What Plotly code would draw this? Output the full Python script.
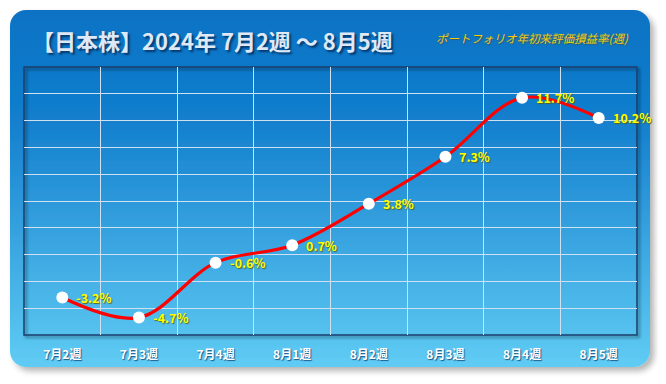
import base64
import plotly.graph_objects as go

categories = ["7月2週", "7月3週", "7月4週", "8月1週", "8月2週", "8月3週", "8月4週", "8月5週"]
returns_pct = [-3.2, -4.7, -0.6, 0.7, 3.8, 7.3, 11.7, 10.2]
labels = [f"{v:.1f}%" for v in returns_pct]

title_text = "【日本株】2024年 7月2週 ～ 8月5週"
legend_text = "ポートフォリオ年初来評価損益率(週)"

# page offset of 8px (body margin) compensated: figure is 658x376
OFF = 8
W, H = 666 - OFF, 384 - OFF
L, R, T, B = 24 - OFF, 29, 67 - OFF, 49
pw, ph = W - L - R, H - T - B

svg = f'''<svg xmlns="http://www.w3.org/2000/svg" width="{W}" height="{H}" viewBox="0 0 {W} {H}">
<defs>
<linearGradient id="g" x1="0" y1="0" x2="0" y2="1">
<stop offset="0" stop-color="#0a72c4"/>
<stop offset="0.3" stop-color="#127ecd"/>
<stop offset="1" stop-color="#60ccf4"/>
</linearGradient>
<filter id="s" x="-5%" y="-5%" width="115%" height="120%">
<feGaussianBlur in="SourceAlpha" stdDeviation="3"/>
<feOffset dx="4" dy="4" result="b"/>
<feComponentTransfer><feFuncA type="linear" slope="0.3"/></feComponentTransfer>
<feMerge><feMergeNode/><feMergeNode in="SourceGraphic"/></feMerge>
</filter>
<filter id="s2" x="-5%" y="-5%" width="110%" height="115%">
<feGaussianBlur in="SourceAlpha" stdDeviation="1.5"/>
<feOffset dx="2" dy="2" result="b"/>
<feComponentTransfer><feFuncA type="linear" slope="0.5"/></feComponentTransfer>
<feMerge><feMergeNode/><feMergeNode in="SourceGraphic"/></feMerge>
</filter>
</defs>
<rect x="{10 - OFF}" y="{10 - OFF}" width="640" height="357" rx="16" ry="16" fill="url(#g)" filter="url(#s)"/>
<rect x="{L}" y="{T}" width="{pw}" height="{ph}" fill="none" stroke="#1d3f6b" stroke-width="1.5" filter="url(#s2)"/>
</svg>'''
src = "data:image/svg+xml;base64," + base64.b64encode(svg.encode("utf-8")).decode("ascii")

fig = go.Figure()
fig.add_trace(go.Scatter(
    x=categories, y=returns_pct, mode="lines+markers",
    line=dict(color="#ff0000", width=3.2, shape="spline", smoothing=1.0),
    marker=dict(size=12, color="#ffffff", line=dict(width=0)),
    cliponaxis=False, hoverinfo="skip",
))

label_font = dict(family="Noto Sans CJK JP", size=12.5, color="#ffff00", weight="bold",
                  shadow="1px 1px 1px rgba(90,90,0,0.85)")
annotations = [
    dict(x=c, y=v, text=t, xref="x", yref="y", xanchor="left", yanchor="middle",
         xshift=12, yshift=0, showarrow=False, font=label_font)
    for c, v, t in zip(categories, returns_pct, labels)
]
annotations += [
    dict(text=title_text, xref="paper", yref="paper", x=(30 - OFF - L) / pw, y=(H - B - (40 - OFF)) / ph,
         xanchor="left", yanchor="middle", showarrow=False,
         font=dict(family="Noto Sans CJK JP", size=22, color="#dfe9f6", weight="bold",
                   shadow="2px 2px 2px rgba(0,30,70,0.7)")),
    dict(text=legend_text, xref="paper", yref="paper", x=(631 - OFF - L) / pw, y=(H - B - (38 - OFF)) / ph,
         xanchor="right", yanchor="middle", showarrow=False,
         font=dict(family="Noto Sans CJK JP", size=11.5, color="#f5cc10", style="italic",
                   shadow="1px 1px 1px rgba(90,70,0,0.6)")),
]

fig.update_layout(
    width=W, height=H,
    margin=dict(l=L, r=R, t=T, b=B),
    paper_bgcolor="#ffffff", plot_bgcolor="rgba(0,0,0,0)",
    showlegend=False,
    images=[dict(source=src, xref="paper", yref="paper",
                 x=-L / pw, y=(ph + T) / ph, sizex=W / pw, sizey=H / ph,
                 xanchor="left", yanchor="top", sizing="stretch", layer="below")],
    xaxis=dict(type="category", range=[-0.5, 7.5], tickson="boundaries",
               showgrid=True, gridcolor="#cfe0f0", gridwidth=1, zeroline=False,
               ticks="", ticklabelstandoff=11,
               tickfont=dict(family="Noto Sans CJK JP", size=12, color="#ffffff", weight="bold",
                             shadow="1px 1px 1px rgba(0,40,90,0.7)"),
               showline=False, fixedrange=True),
    yaxis=dict(range=[-6, 14], dtick=2, showgrid=True, gridcolor="#cfe0f0", gridwidth=1,
               zeroline=False, showticklabels=False, showline=False, fixedrange=True),
    annotations=annotations,
)

fig.write_html("out.html")
